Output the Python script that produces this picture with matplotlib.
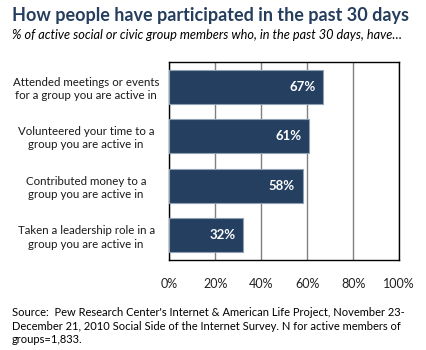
import matplotlib.pyplot as plt

categories = [
    "Attended meetings or events\nfor a group you are active in",
    "Volunteered your time to a\ngroup you are active in",
    "Contributed money to a\ngroup you are active in",
    "Taken a leadership role in a\ngroup you are active in",
]
values = [67, 61, 58, 32]
ticks = [0, 20, 40, 60, 80, 100]
tick_labels = ["0%", "20%", "40%", "60%", "80%", "100%"]

plt.rcParams['font.family'] = ['Lato', 'DejaVu Sans']

W, H = 427, 350
fig = plt.figure(figsize=(W / 100, H / 100), dpi=100)
ax = fig.add_axes([169.5 / W, 1 - 260 / H, (399 - 169.5) / W, (260 - 62) / H])

ypos = list(range(len(values)))
ax.barh(ypos, values, height=0.68, color='#243F60', edgecolor='#8FA0B3',
        linewidth=0.8, zorder=3)
for y, v in zip(ypos, values):
    ax.text(v - 3.3, y, f"{v}%", ha='right', va='center', color='white',
            fontsize=9.5, fontweight='bold', zorder=4)

ax.set_xlim(0, 100)
ax.set_ylim(len(values) - 0.5, -0.5)
ax.set_xticks(ticks)
ax.set_xticklabels(tick_labels, fontsize=9, color='#222222')
ax.set_yticks(ypos)
ax.set_yticklabels(categories, fontsize=8.3, color='#1a1a1a', ha='center',
                   linespacing=1.25)
ax.tick_params(axis='y', length=0, pad=60)
ax.tick_params(axis='x', length=0, pad=13)
ax.grid(axis='x', color='#808080', linewidth=1, zorder=0)
for s in ax.spines.values():
    s.set_color('black')
    s.set_linewidth(1)

fig.text(12 / W, 1 - 15 / H, "How people have participated in the past 30 days",
         fontsize=13, fontweight='bold', color='#263E5E', va='center')
fig.text(12 / W, 1 - 35 / H,
         "% of active social or civic group members who, in the past 30 days, have\u2026",
         fontsize=9.2, style='italic', color='black', va='center')
fig.text(12 / W, 1 - 326 / H,
         "Source:  Pew Research Center's Internet & American Life Project, November 23-\n"
         "December 21, 2010 Social Side of the Internet Survey. N for active members of\n"
         "groups=1,833.",
         fontsize=8, color='black', va='center', linespacing=1.3)

fig.savefig('out.png', dpi=100)
